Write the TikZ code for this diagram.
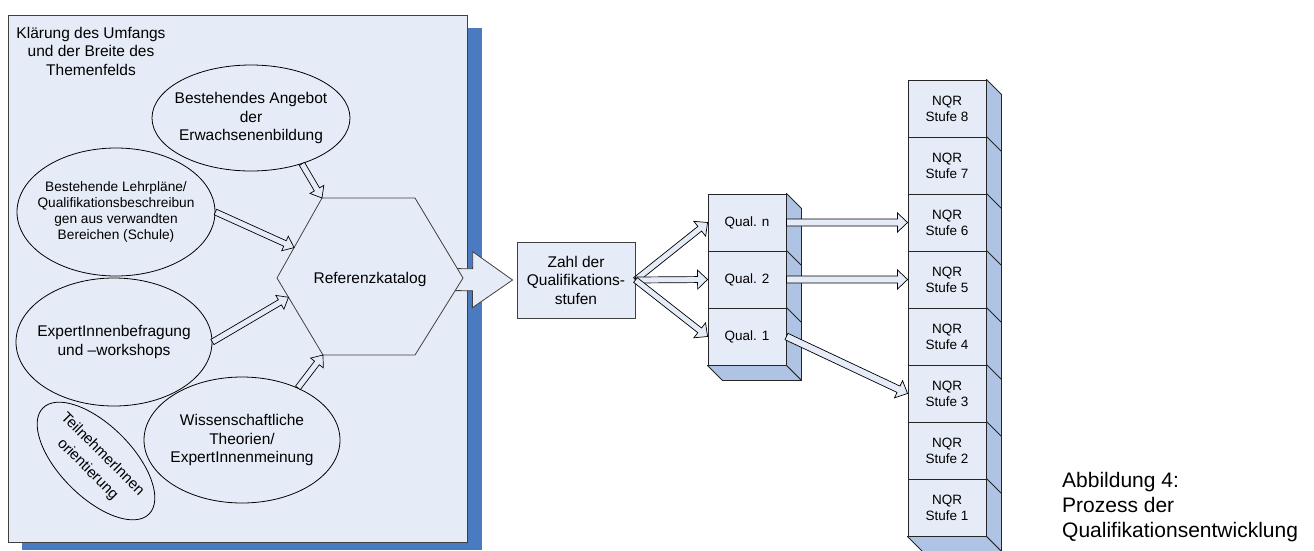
\documentclass[tikz,border=0pt]{standalone}
\usepackage{fontspec}
\setmainfont{Liberation Sans}
\usetikzlibrary{shapes.geometric,calc}

\definecolor{boxfill}{HTML}{E6ECF7}
\definecolor{shadowblue}{HTML}{4A7AC0}
\definecolor{sideblue}{HTML}{AFC4E4}
\definecolor{edgegray}{HTML}{404040}

\newcommand{\fntmain}{\fontsize{15.5}{18.5}\selectfont}
\newcommand{\fntsmall}{\fontsize{13.7}{16}\selectfont}
\newcommand{\fntcell}{\fontsize{13.5}{16}\selectfont}
\newcommand{\fntcap}{\fontsize{21}{25}\selectfont}
\newcommand{\fnttilt}{\fontsize{15}{21}\selectfont}

% block arrow polygon: [style]{from}{to}{shaft half width}{head half width}{head length}
\newcommand{\blockarrow}[6][]{%
  \coordinate (ba-s) at (#2);
  \coordinate (ba-t) at (#3);
  \coordinate (ba-n) at ($(ba-t)!#6!(ba-s)$);
  \draw[#1] ($(ba-s)!#4!90:(ba-t)$) -- ($(ba-n)!#4!90:(ba-t)$)
    -- ($(ba-n)!#5!90:(ba-t)$) -- (ba-t) -- ($(ba-n)!#5!-90:(ba-t)$)
    -- ($(ba-n)!#4!-90:(ba-t)$) -- ($(ba-s)!#4!-90:(ba-t)$) -- cycle;
}

\begin{document}
\begin{tikzpicture}[x=1pt,y=-1pt,
  every node/.style={inner sep=0pt, align=center},
  bubble/.style={draw=black, ellipse, line width=0.8pt},
  hollow/.style={draw=black, fill=boxfill, line width=0.7pt},
  bigarrow/.style={draw=edgegray, fill=boxfill, line width=0.8pt},
  cell/.style={draw=black!85, fill=boxfill, line width=0.9pt, rectangle,
    minimum width=78pt, minimum height=57pt, font=\fntcell},
  sideface/.style={draw=black!85, fill=sideblue, line width=0.9pt, line join=round},
]
\useasboundingbox (0,0) rectangle (1314,550);

% framed area with its drop shadow
\fill[shadowblue] (22,28) rectangle (482,550);
\draw[edgegray, fill=boxfill, line width=0.9pt] (8,15) rectangle (467,542);
\node[font=\fntmain] (title) at (91,51) {Klärung des Umfangs\\und der Breite des\\Themenfelds};

% sources
\node[bubble, minimum width=198pt, minimum height=106pt] (e1) at (251,118) {};
\node[font=\fntmain] (e1t) at (e1) {Bestehendes Angebot\\der\\Erwachsenenbildung};
\node[bubble, minimum width=198pt, minimum height=128pt] (e2) at (116,212) {};
\node[font=\fntsmall] (e2t) at (e2) {Bestehende Lehrpläne/\\Qualifikationsbeschreibun\\gen aus verwandten\\Bereichen (Schule)};
\node[bubble, minimum width=196pt, minimum height=128pt] (e3) at (114,342) {};
\node[font=\fntmain] (e3t) at (e3) {ExpertInnenbefragung\\und –workshops};
\node[bubble, minimum width=196pt, minimum height=126pt] (e4) at (242,440) {};
\node[font=\fntmain] (e4t) at (e4) {Wissenschaftliche\\Theorien/\\ExpertInnenmeinung};
\node[bubble, rotate=-45, minimum width=150pt, minimum height=72pt] (e5) at (96,461) {};
\node[font=\fnttilt, rotate=-45] (e5t) at (95,462) {TeilnehmerInnen\\orientierung};

% hexagon corners
\coordinate (h-tl) at (322,198);
\coordinate (h-tr) at (415,198);
\coordinate (h-r)  at (463,278);
\coordinate (h-br) at (415,355);
\coordinate (h-bl) at (323,355);
\coordinate (h-l)  at (277,278);
\coordinate (h-c)  at (370,279);

% number of levels
\node[draw=edgegray, fill=boxfill, line width=0.9pt, minimum width=118pt,
  minimum height=76pt, font=\fntmain] (zahl) at (576,280) {Zahl der\\Qualifikations-\\stufen};

% large arrow from the catalogue to the number of levels
\blockarrow[bigarrow]{h-c}{$(zahl.west)+(-4,0)$}{11pt}{28pt}{40pt}

\draw[edgegray, fill=boxfill, line width=0.8pt]
  (h-tl) -- (h-tr) -- (h-r) -- (h-br) -- (h-bl) -- (h-l) -- cycle;
\node[font=\fntmain] (ref) at (h-c) {Referenzkatalog};

% inputs into the catalogue
\blockarrow[hollow]{e1.-42}{h-tl}{3pt}{8pt}{10pt}
\blockarrow[hollow]{e2.east}{$(h-l)!0.38!(h-tl)$}{3pt}{8pt}{10pt}
\blockarrow[hollow]{e3.east}{$(h-l)!0.25!(h-bl)$}{3pt}{8pt}{10pt}
\blockarrow[hollow]{e4.43}{h-bl}{3pt}{8pt}{10pt}

% qualification stack
\node[cell] (qn) at (747,222.5) {Qual. n};
\node[cell] (q2) at (747,279.5) {Qual. 2};
\node[cell] (q1) at (747,336.5) {Qual. 1};
\draw[sideface] (qn.north east) -- ++(15,15) -- ($(q1.south east)+(15,15)$) -- (q1.south east) -- cycle;
\draw[sideface] (q1.south west) -- (q1.south east) -- ++(15,15) -- ($(q1.south west)+(15,15)$) -- cycle;
\draw[black!85, line width=0.9pt] (q2.north east) -- ++(15,15) (q1.north east) -- ++(15,15);

% NQR stack
\foreach \i in {1,...,8}
  \node[cell] (s\i) at (947,{564.5-57*\i}) {NQR\\Stufe \i};
\draw[sideface] (s8.north east) -- ++(15,15) -- ($(s1.south east)+(15,15)$) -- (s1.south east) -- cycle;
\draw[sideface] (s1.south west) -- (s1.south east) -- ++(15,15) -- ($(s1.south west)+(15,15)$) -- cycle;
\foreach \i in {1,...,7}
  \draw[black!85, line width=0.9pt] (s\i.north east) -- ++(15,15);

% fan-out to the qualifications
\blockarrow[hollow]{zahl.east}{qn.west}{3pt}{9.5pt}{10pt}
\blockarrow[hollow]{zahl.east}{q2.west}{3pt}{9.5pt}{10pt}
\blockarrow[hollow]{zahl.east}{q1.west}{3pt}{9.5pt}{10pt}

% mapping onto NQR levels
\blockarrow[hollow]{qn.east}{s6.west}{3.5pt}{9.5pt}{10pt}
\blockarrow[hollow]{q2.east}{s5.west}{3.5pt}{9.5pt}{10pt}
\blockarrow[hollow]{q1.east}{s3.west}{3.5pt}{9.5pt}{10pt}

% caption
\node[anchor=west, align=left, font=\fntcap] (cap) at (1062,507)
  {Abbildung 4:\\Prozess der\\Qualifikationsentwicklung};
\end{tikzpicture}
\end{document}
